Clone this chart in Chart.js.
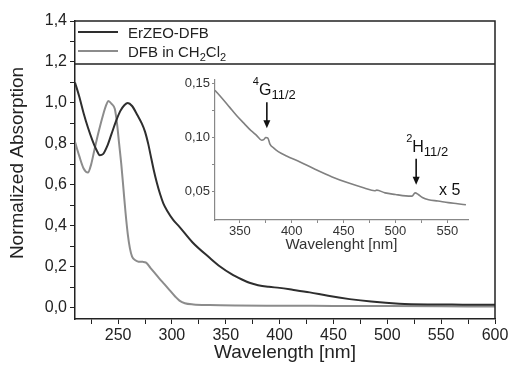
<!DOCTYPE html>
<html>
<head>
<meta charset="utf-8">
<script src="https://cdn.jsdelivr.net/npm/chart.js@4"></script>
<style>
    html, body { margin: 0; padding: 0; background: #fff; }
    #wrap { position: relative; width: 512px; height: 367px; }
    #mainChart { position: absolute; left: 0; top: 0; }
    #insetChart { position: absolute; left: 150px; top: 70px; }
</style>
</head>
<body>
<div id="wrap">
    <canvas id="mainChart" width="512" height="367"></canvas>
    <canvas id="insetChart" width="340" height="195"></canvas>
</div>
<script>
// Main spectra
const erzeoWavelength = [210, 214, 218, 222, 226, 230, 233, 236, 240, 244, 248, 252, 256, 259, 263, 268, 272, 275, 278, 280, 283, 286, 289, 292, 296, 301, 307, 319, 335, 345, 355, 365, 372, 380, 390, 400, 412, 428, 445, 465, 485, 511, 540, 570, 600];
const erzeoAbs = [1.10, 1.03, 0.95, 0.88, 0.82, 0.77, 0.745, 0.75, 0.79, 0.85, 0.91, 0.96, 0.99, 1.00, 0.985, 0.94, 0.90, 0.86, 0.80, 0.75, 0.675, 0.61, 0.555, 0.51, 0.47, 0.43, 0.395, 0.32, 0.244, 0.20, 0.165, 0.138, 0.122, 0.110, 0.102, 0.097, 0.088, 0.075, 0.058, 0.042, 0.030, 0.020, 0.016, 0.015, 0.014];

const dfbWavelength = [210, 214, 218, 222, 225, 228, 232, 236, 239, 241, 244, 247, 249, 251, 253, 255, 257, 259, 261, 263, 266, 269, 273, 276, 280, 284, 288, 293, 298, 303, 307, 312, 320, 335, 360, 400, 450, 500, 550, 600];
const dfbAbs = [0.81, 0.74, 0.68, 0.66, 0.70, 0.77, 0.86, 0.94, 0.99, 1.01, 0.995, 0.97, 0.90, 0.80, 0.70, 0.58, 0.46, 0.36, 0.29, 0.25, 0.232, 0.225, 0.224, 0.22, 0.195, 0.17, 0.145, 0.115, 0.085, 0.055, 0.035, 0.022, 0.016, 0.013, 0.011, 0.010, 0.009, 0.008, 0.007, 0.006];

// Inset (x5 zoom of the ErZEO-DFB tail)
const insetWavelength = [326, 333, 340, 347, 354, 360, 362, 366, 371, 373, 375, 377, 379, 383, 387, 395, 408, 422, 439, 455, 470, 480, 482, 490, 500, 510, 516, 519, 522, 526, 532, 541, 551, 560, 568];
const insetAbs = [0.1436, 0.136, 0.128, 0.120, 0.113, 0.107, 0.1055, 0.102, 0.0975, 0.098, 0.100, 0.0995, 0.094, 0.090, 0.087, 0.083, 0.0775, 0.071, 0.0637, 0.058, 0.0535, 0.051, 0.0515, 0.049, 0.0475, 0.0462, 0.046, 0.049, 0.0475, 0.0448, 0.0427, 0.0415, 0.040, 0.039, 0.038];

// Tick positions (labels only on the major ones)
const xTicks = [225, 250, 275, 300, 325, 350, 375, 400, 425, 450, 475, 500, 525, 550, 575, 600];
const yTicks = [0, 0.1, 0.2, 0.3, 0.4, 0.5, 0.6, 0.7, 0.8, 0.9, 1.0, 1.1, 1.2, 1.3, 1.4];
const insetXTicks = [350, 375, 400, 425, 450, 475, 500, 525, 550];
const insetYTicks = [0.05, 0.075, 0.10, 0.125, 0.15];

const legendDivider = 1.19;
const peakLabels = [
    { wl: 376, tip: 0.1085, len: 26, sup: '4', main: 'G', sub: '11/2', dx: -14 },
    { wl: 520, tip: 0.0565, len: 26, sup: '2', main: 'H', sub: '11/2', dx: -10 }
];

const DARK = '#2e2e2e';
const GREY = '#8c8c8c';
const AXIS = '#222';
const FONT = "'Liberation Sans', Arial, sans-serif";

Chart.defaults.font.family = FONT;
Chart.defaults.color = '#222';

function toPoints(xs, ys) {
    return xs.map((x, i) => ({ x: x, y: ys[i] }));
}

function comma(v, d) {
    return v.toFixed(d).replace('.', ',');
}

function setTicks(values) {
    return s => { s.ticks = values.map(v => ({ value: v })); };
}

// draw text pieces with sub/superscripts, left to right
function drawRich(ctx, parts, x, baseline) {
    parts.forEach(p => {
        ctx.font = p.size + 'px ' + FONT;
        ctx.fillText(p.t, x, baseline + (p.dy || 0));
        x += ctx.measureText(p.t).width;
    });
}

function drawArrow(ctx, x, y0, y1) {
    ctx.beginPath();
    ctx.moveTo(x, y0);
    ctx.lineTo(x, y1 - 6);
    ctx.stroke();
    ctx.beginPath();
    ctx.moveTo(x - 3.5, y1 - 8);
    ctx.lineTo(x + 3.5, y1 - 8);
    ctx.lineTo(x, y1);
    ctx.closePath();
    ctx.fill();
}

const framePlugin = {
    id: 'frame',
    afterDraw(chart) {
        const { ctx, chartArea: a, scales: { y } } = chart;
        ctx.save();
        ctx.strokeStyle = AXIS;
        ctx.lineWidth = 1.5;
        ctx.beginPath();
        ctx.moveTo(a.left, a.top);
        ctx.lineTo(a.right, a.top);
        ctx.lineTo(a.right, a.bottom);
        const dy = y.getPixelForValue(legendDivider);
        ctx.moveTo(a.left, dy);
        ctx.lineTo(a.right, dy);
        ctx.stroke();

        // legend
        ctx.lineWidth = 2;
        ctx.strokeStyle = DARK;
        ctx.beginPath();
        ctx.moveTo(a.left + 3, a.top + 11);
        ctx.lineTo(a.left + 43, a.top + 11);
        ctx.stroke();
        ctx.strokeStyle = GREY;
        ctx.beginPath();
        ctx.moveTo(a.left + 3, a.top + 30);
        ctx.lineTo(a.left + 43, a.top + 30);
        ctx.stroke();

        ctx.fillStyle = '#222';
        ctx.textBaseline = 'alphabetic';
        drawRich(ctx, [{ t: 'ErZEO-DFB', size: 15 }], a.left + 53, a.top + 16.5);
        drawRich(ctx, [
            { t: 'DFB in CH', size: 15 },
            { t: '2', size: 11, dy: 4 },
            { t: 'Cl', size: 15 },
            { t: '2', size: 11, dy: 4 }
        ], a.left + 53, a.top + 35.5);

        // y axis title
        ctx.translate(18, 163);
        ctx.rotate(-Math.PI / 2);
        ctx.textAlign = 'center';
        ctx.textBaseline = 'middle';
        ctx.font = '19px ' + FONT;
        ctx.fillText('Normalized Absorption', 0, 0);
        ctx.restore();
    }
};

const insetPlugin = {
    id: 'insetNotes',
    afterDraw(chart) {
        const { ctx, chartArea: a, scales: { x, y } } = chart;
        ctx.save();
        ctx.fillStyle = '#111';
        ctx.strokeStyle = '#111';
        ctx.lineWidth = 1.6;
        ctx.textBaseline = 'alphabetic';
        peakLabels.forEach(p => {
            const px = x.getPixelForValue(p.wl);
            const tip = y.getPixelForValue(p.tip);
            drawArrow(ctx, px, tip - p.len, tip);
            const base = tip - p.len - 7;
            drawRich(ctx, [
                { t: p.sup, size: 11, dy: -10 },
                { t: p.main, size: 16 },
                { t: p.sub, size: 13, dy: 4 }
            ], px + p.dx, base);
        });
        ctx.font = '16px ' + FONT;
        ctx.fillText('x 5', a.right - 29, y.getPixelForValue(0.0475) + 1);
        ctx.restore();
    }
};

new Chart(document.getElementById('mainChart'), {
    type: 'line',
    data: {
        datasets: [{
            label: 'ErZEO-DFB',
            data: toPoints(erzeoWavelength, erzeoAbs),
            borderColor: DARK,
            borderWidth: 2,
            pointRadius: 0,
            cubicInterpolationMode: 'monotone'
        }, {
            label: 'DFB in CH2Cl2',
            data: toPoints(dfbWavelength, dfbAbs),
            borderColor: GREY,
            borderWidth: 2,
            pointRadius: 0,
            cubicInterpolationMode: 'monotone'
        }]
    },
    options: {
        responsive: false,
        animation: false,
        layout: { padding: { top: 21, right: 17, left: 0, bottom: 0 } },
        plugins: { legend: { display: false }, tooltip: { enabled: false } },
        scales: {
            x: {
                type: 'linear',
                min: 210,
                max: 600,
                afterFit: s => { s.height = 48; },
                afterBuildTicks: setTicks(xTicks),
                ticks: {
                    autoSkip: false,
                    maxRotation: 0,
                    padding: 2,
                    font: { size: 16 },
                    color: '#222',
                    callback: v => (v % 50 === 0 ? String(v) : '')
                },
                grid: { drawOnChartArea: false, tickLength: 5, color: AXIS },
                border: { color: AXIS, width: 1.5 },
                title: { display: true, text: 'Wavelength [nm]', font: { size: 19 }, color: '#222', padding: { top: 0, bottom: 3 } }
            },
            y: {
                min: -0.055,
                max: 1.4,
                afterFit: s => { s.width = 75; },
                afterBuildTicks: setTicks(yTicks),
                ticks: {
                    autoSkip: false,
                    padding: 3,
                    font: { size: 16 },
                    color: '#222',
                    callback: v => (Math.round(v * 10) % 2 === 0 ? comma(v, 1) : '')
                },
                grid: { drawOnChartArea: false, tickLength: 5, color: AXIS },
                border: { color: AXIS, width: 1.5 }
            }
        }
    },
    plugins: [framePlugin]
});

new Chart(document.getElementById('insetChart'), {
    type: 'line',
    data: {
        datasets: [{
            label: 'ErZEO-DFB x5',
            data: toPoints(insetWavelength, insetAbs),
            borderColor: '#808080',
            borderWidth: 1.6,
            pointRadius: 0,
            cubicInterpolationMode: 'monotone'
        }]
    },
    options: {
        responsive: false,
        animation: false,
        layout: { padding: { top: 10, right: 22, left: 0, bottom: 0 } },
        plugins: { legend: { display: false }, tooltip: { enabled: false } },
        scales: {
            x: {
                type: 'linear',
                min: 326,
                max: 570,
                afterFit: s => { s.height = 45; },
                afterBuildTicks: setTicks(insetXTicks),
                ticks: {
                    autoSkip: false,
                    maxRotation: 0,
                    padding: 1,
                    font: { size: 13 },
                    color: '#333',
                    callback: v => (v % 50 === 0 ? String(v) : '')
                },
                grid: { drawOnChartArea: false, tickLength: 3, color: '#888' },
                border: { color: '#888', width: 1.2 },
                title: { display: true, text: 'Wavelenght [nm]', font: { size: 15 }, color: '#333', padding: { top: 0, bottom: 11 } }
            },
            y: {
                min: 0.024,
                max: 0.153,
                afterFit: s => { s.width = 65; },
                afterBuildTicks: setTicks(insetYTicks),
                ticks: {
                    autoSkip: false,
                    padding: 2,
                    font: { size: 13 },
                    color: '#333',
                    callback: v => (Math.round(v * 1000) % 50 === 0 ? comma(v, 2) : '')
                },
                grid: { drawOnChartArea: false, tickLength: 3, color: '#888' },
                border: { color: '#888', width: 1.2 }
            }
        }
    },
    plugins: [insetPlugin]
});
</script>
</body>
</html>
